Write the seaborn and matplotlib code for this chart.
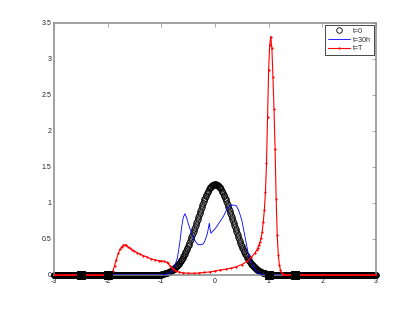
import numpy as np
import pandas as pd
import matplotlib
matplotlib.use("Agg")
import matplotlib.pyplot as plt
import seaborn as sns

# t=0 profile (circles), x from -1 to 1 step 0.0125; zero outside
t0_center = [0.013, 0.014, 0.016, 0.018, 0.020, 0.022, 0.025, 0.028, 0.031, 0.034,
             0.037, 0.041, 0.046, 0.050, 0.055, 0.061, 0.067, 0.073, 0.080, 0.087,
             0.095, 0.104, 0.113, 0.122, 0.133, 0.144, 0.156, 0.168, 0.181, 0.195,
             0.210, 0.225, 0.241, 0.258, 0.276, 0.295, 0.314, 0.334, 0.355, 0.377,
             0.400, 0.423, 0.447, 0.472, 0.497, 0.523, 0.550, 0.577, 0.604, 0.632,
             0.661, 0.689, 0.718, 0.747, 0.776, 0.805, 0.834, 0.862, 0.890, 0.918,
             0.946, 0.973, 0.999, 1.024, 1.049, 1.072, 1.095, 1.116, 1.136, 1.155,
             1.173, 1.189, 1.203, 1.216, 1.228, 1.238, 1.246, 1.252, 1.256, 1.259,
             1.260,
             1.259, 1.256, 1.252, 1.246, 1.238, 1.228, 1.216, 1.203, 1.189, 1.173,
             1.155, 1.136, 1.116, 1.095, 1.072, 1.049, 1.024, 0.999, 0.973, 0.946,
             0.918, 0.890, 0.862, 0.834, 0.805, 0.776, 0.747, 0.718, 0.689, 0.661,
             0.632, 0.604, 0.577, 0.550, 0.523, 0.497, 0.472, 0.447, 0.423, 0.400,
             0.377, 0.355, 0.334, 0.314, 0.295, 0.276, 0.258, 0.241, 0.225, 0.210,
             0.195, 0.181, 0.168, 0.156, 0.144, 0.133, 0.122, 0.113, 0.104, 0.095,
             0.087, 0.080, 0.073, 0.067, 0.061, 0.055, 0.050, 0.046, 0.041, 0.037,
             0.034, 0.031, 0.028, 0.025, 0.022, 0.020, 0.018, 0.016, 0.014, 0.013]

# t=30h profile (blue)
t30_x = [-3.0, -1.0, -0.9, -0.85, -0.8, -0.75, -0.7, -0.66, -0.62, -0.59, -0.56,
         -0.53, -0.5, -0.47, -0.43, -0.4, -0.35, -0.31, -0.26, -0.22, -0.19, -0.17,
         -0.14, -0.12, -0.105, -0.09, -0.075, -0.05, 0.0, 0.03, 0.1, 0.155, 0.2,
         0.26, 0.3, 0.35, 0.4, 0.45, 0.5, 0.56, 0.62, 0.67, 0.71, 0.76, 0.81, 0.9,
         1.0, 3.0]
t30_y = [0.0, 0.0, 0.01, 0.02, 0.06, 0.12, 0.24, 0.42, 0.67, 0.80, 0.85,
         0.80, 0.72, 0.65, 0.57, 0.51, 0.45, 0.42, 0.42, 0.43, 0.47, 0.51,
         0.58, 0.66, 0.72, 0.63, 0.58, 0.60, 0.64, 0.67, 0.75, 0.81, 0.88,
         0.95, 0.97, 0.97, 0.96, 0.88, 0.76, 0.53, 0.30, 0.19, 0.12, 0.06, 0.02, 0.005,
         0.0, 0.0]

# t=T profile (red), nonzero part
tT_x = [-1.95, -1.93, -1.90, -1.87, -1.84, -1.80, -1.77, -1.74, -1.71, -1.68,
        -1.65, -1.62, -1.58, -1.54, -1.50, -1.45, -1.40, -1.34, -1.27, -1.20,
        -1.12, -1.05, -1.00, -0.95, -0.90, -0.87, -0.84, -0.80, -0.76, -0.72,
        -0.67, -0.60, -0.50, -0.40, -0.30, -0.20, -0.10, 0.00, 0.10, 0.20,
        0.30, 0.40, 0.50, 0.60, 0.68, 0.74, 0.78, 0.80, 0.82, 0.84,
        0.86, 0.88, 0.90, 0.92, 0.94, 0.96, 0.98, 1.00, 1.02, 1.04,
        1.06, 1.08, 1.10, 1.12, 1.14, 1.16, 1.18, 1.20, 1.22, 1.24,
        1.26, 1.28]
tT_y = [0.0, 0.01, 0.06, 0.13, 0.21, 0.30, 0.36, 0.39, 0.41, 0.42,
        0.41, 0.39, 0.37, 0.35, 0.33, 0.31, 0.29, 0.27, 0.25, 0.225,
        0.21, 0.20, 0.195, 0.19, 0.175, 0.16, 0.13, 0.10, 0.075, 0.055,
        0.04, 0.03, 0.025, 0.024, 0.028, 0.035, 0.042, 0.055, 0.07, 0.08,
        0.095, 0.115, 0.145, 0.19, 0.25, 0.30, 0.35, 0.38, 0.42, 0.46,
        0.52, 0.60, 0.74, 0.90, 1.15, 1.55, 2.20, 2.85, 3.20, 3.31,
        3.15, 2.75, 2.30, 1.75, 1.05, 0.55, 0.28, 0.14, 0.07, 0.03,
        0.01, 0.0]

# black squares on the axis
sq_x = [-2.5, -2.0, 1.0, 1.5]
sq_y = [0.0, 0.0, 0.0, 0.0]

x_ticks = [-3, -2, -1, 0, 1, 2, 3]
x_labels = ["-3", "-2", "-1", "0", "1", "2", "3"]
y_ticks = [0, 0.5, 1, 1.5, 2, 2.5, 3, 3.5]
y_labels = ["0", "0.5", "1", "1.5", "2", "2.5", "3", "3.5"]

# build full arrays (dense grid where the profile is flat at zero)
z_left = np.linspace(-3, -1.005, 400)
z_right = np.linspace(1.005, 3, 400)
t0_x = np.concatenate([z_left, np.linspace(-1, 1, len(t0_center)), z_right])
t0_y = np.concatenate([np.zeros(400), t0_center, np.zeros(400)])
left = np.arange(-3.0, -1.95, 0.02)
right = np.arange(1.30, 3.001, 0.02)
red_x = np.concatenate([left, tT_x, right])
red_y = np.concatenate([np.zeros(len(left)), tT_y, np.zeros(len(right))])

df0 = pd.DataFrame({"x": t0_x, "y": t0_y})
df30 = pd.DataFrame({"x": t30_x, "y": t30_y})
dfT = pd.DataFrame({"x": red_x, "y": red_y})
dfs = pd.DataFrame({"x": sq_x, "y": sq_y})

sns.set_style("white")
plt.rcParams["font.family"] = ["Liberation Sans", "DejaVu Sans"]
plt.rcParams["axes.unicode_minus"] = False
plt.rcParams["path.simplify"] = False

fig = plt.figure(figsize=(4.15, 3.1), dpi=100)
ax = fig.add_axes([0.130, 0.113, 0.776, 0.813])

sns.lineplot(data=df0, x="x", y="y", ax=ax, estimator=None, sort=False,
             color="k", linestyle="none", marker="o", markersize=4.0,
             markerfacecolor="none", markeredgecolor="k", markeredgewidth=0.6,
             label="t=0", clip_on=False, zorder=2)
sns.lineplot(data=df30, x="x", y="y", ax=ax, estimator=None, sort=False,
             color="#0000ff", linewidth=0.6, label="t=30h", zorder=3)
sns.lineplot(data=dfT, x="x", y="y", ax=ax, estimator=None, sort=False,
             color="#ff0000", linewidth=0.8, marker=".", markersize=2.2,
             markeredgecolor="#ff0000", markeredgewidth=0.4,
             label="t=T", zorder=4)
sns.lineplot(data=dfs, x="x", y="y", ax=ax, estimator=None, sort=False,
             color="k", linestyle="none", marker="s", markersize=6,
             markeredgecolor="k", label="_nolegend_", clip_on=False, zorder=5)

ax.set_xlim(-3, 3)
ax.set_ylim(0, 3.5)
ax.set_xticks(x_ticks)
ax.set_xticklabels(x_labels)
ax.set_yticks(y_ticks)
ax.set_yticklabels(y_labels)
ax.set_xlabel("")
ax.set_ylabel("")

for s in ax.spines.values():
    s.set_visible(True)
    s.set_color("#888888")
    s.set_linewidth(1.1)
ax.tick_params(direction="in", top=True, right=True, length=3, width=0.5,
               color="#888888", labelsize=5, pad=2, labelcolor="#222222")

leg = ax.legend(loc="upper right", fontsize=5, frameon=True, fancybox=False,
                edgecolor="k", framealpha=1, borderaxespad=0.3, handlelength=3.2,
                labelspacing=0.25, borderpad=0.4, handletextpad=0.4)
leg.get_frame().set_linewidth(0.5)

fig.savefig("out.png", dpi=100)
